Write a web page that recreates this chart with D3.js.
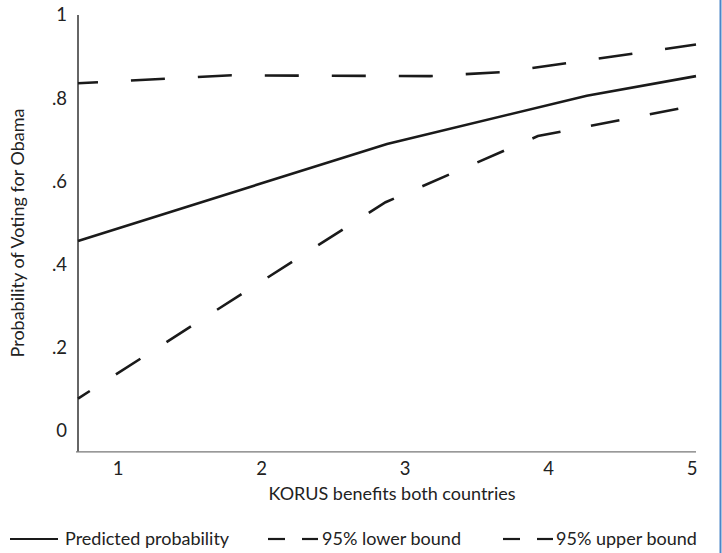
<!DOCTYPE html>
<html>
<head>
<meta charset="utf-8">
<script src="https://cdn.jsdelivr.net/npm/d3@7"></script>
<style>
  body { margin: 0; background: #fff; }
  svg { display: block; font-family: Lato, 'Open Sans', sans-serif; }
  .tick-label { font-size: 18.5px; fill: #222; }
  .axis-title { font-size: 18px; fill: #222; }
  .legend-text { font-size: 18px; fill: #222; }
</style>
</head>
<body>
<svg id="chart" width="722" height="553"></svg>
<script>
// DATA
const xTicks = [1, 2, 3, 4, 5];
const yTicks = [0, 0.2, 0.4, 0.6, 0.8, 1];
const yTickLabels = ['0', '.2', '.4', '.6', '.8', '1'];

const predictedX = [0.72, 2.87, 4.26, 5.02];
const predictedY = [0.457, 0.69, 0.806, 0.853];

const lowerX = [0.72, 2.86, 3.92, 5.02];
const lowerY = [0.078, 0.55, 0.709, 0.783];

const upperX = [0.72, 1.79, 3.17, 3.69, 5.02];
const upperY = [0.836, 0.855, 0.853, 0.863, 0.929];

const legendLabels = ['Predicted probability', '95% lower bound', '95% upper bound'];

// SETUP
let svg = d3.select('svg'),
  x = d3.scaleLinear().domain([0.72, 5.02]).range([78, 696]),
  y = d3.scaleLinear().domain([0, 1]).range([431, 15]);

const zip = (xs, ys) => xs.map((v, i) => ({ x: v, y: ys[i] }));

const line = d3.line()
  .x(d => x(d.x))
  .y(d => y(d.y));

// AXES
svg.append('line')
  .attr('x1', x(0.72)).attr('x2', x(0.72))
  .attr('y1', y(1)).attr('y2', y(-0.05))
  .attr('stroke', '#333').attr('stroke-width', 1.5);
svg.append('line')
  .attr('x1', x(0.72) - 2).attr('x2', x(5.02))
  .attr('y1', y(-0.05)).attr('y2', y(-0.05))
  .attr('stroke', '#777').attr('stroke-width', 1.2);

svg.selectAll('.ytick')
  .data(yTicks)
  .enter()
  .append('text')
  .attr('class', 'tick-label')
  .attr('x', 67)
  .attr('y', d => y(d))
  .attr('dy', '0.35em')
  .attr('text-anchor', 'end')
  .text((d, i) => yTickLabels[i]);

// x tick labels sit at their own positions on the category axis
const xLab = d3.scaleLinear().domain([1, 5]).range([118, 692]);
svg.selectAll('.xtick')
  .data(xTicks)
  .enter()
  .append('text')
  .attr('class', 'tick-label')
  .attr('x', d => xLab(d))
  .attr('y', 469)
  .attr('dy', '0.35em')
  .attr('text-anchor', 'middle')
  .text(d => d);

svg.append('text')
  .attr('class', 'axis-title')
  .attr('x', 392)
  .attr('y', 494)
  .attr('dy', '0.35em')
  .attr('text-anchor', 'middle')
  .text('KORUS benefits both countries');

svg.append('text')
  .attr('class', 'axis-title')
  .attr('transform', 'translate(18,233) rotate(-90)')
  .attr('dy', '0.35em')
  .attr('text-anchor', 'middle')
  .text('Probability of Voting for Obama');

// LINES
svg.append('path')
  .datum(zip(predictedX, predictedY))
  .attr('d', line)
  .attr('fill', 'none')
  .attr('stroke', '#1a1a1a')
  .attr('stroke-width', 2.6);

svg.append('path')
  .datum(zip(lowerX, lowerY))
  .attr('d', line)
  .attr('fill', 'none')
  .attr('stroke', '#1a1a1a')
  .attr('stroke-width', 2.6)
  .attr('stroke-dasharray', '29,31')
  .attr('stroke-dashoffset', 15);

svg.append('path')
  .datum(zip(upperX, upperY))
  .attr('d', line)
  .attr('fill', 'none')
  .attr('stroke', '#1a1a1a')
  .attr('stroke-width', 2.6)
  .attr('stroke-dasharray', '34,33')
  .attr('stroke-dashoffset', 14);

// LEGEND
const legendY = 539;
const legend = svg.append('g').attr('class', 'legend');
legend.append('line')
  .attr('x1', 10).attr('x2', 58).attr('y1', legendY).attr('y2', legendY)
  .attr('stroke', '#1a1a1a').attr('stroke-width', 2.2);
[[268, 285], [302, 318], [503, 520], [537, 553]].forEach(s => {
  legend.append('line')
    .attr('x1', s[0]).attr('x2', s[1]).attr('y1', legendY).attr('y2', legendY)
    .attr('stroke', '#1a1a1a').attr('stroke-width', 2.2);
});
[65, 322, 556].forEach((lx, i) => {
  legend.append('text')
    .attr('class', 'legend-text')
    .attr('x', lx)
    .attr('y', legendY)
    .attr('dy', '0.35em')
    .text(legendLabels[i]);
});

// right frame edge
svg.append('line')
  .attr('x1', 720.5).attr('x2', 720.5).attr('y1', 0).attr('y2', 553)
  .attr('stroke', '#4a86c8').attr('stroke-width', 2);
</script>
</body>
</html>
